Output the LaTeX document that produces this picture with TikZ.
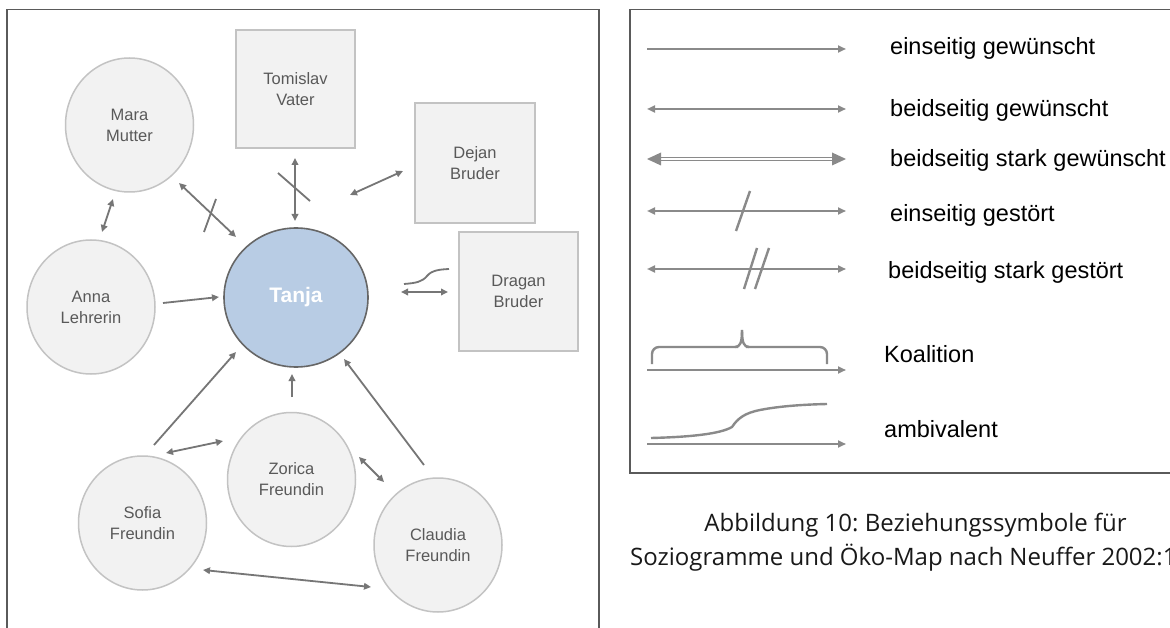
\documentclass[tikz,border=0pt]{standalone}
\usepackage{fontspec}
\setmainfont{Liberation Sans}
\newfontfamily\capfont{Open Sans}
\usetikzlibrary{shapes.geometric,arrows.meta}
\frenchspacing
\definecolor{nodefill}{HTML}{F2F2F2}
\definecolor{nodeline}{HTML}{C3C3C3}
\definecolor{nodetext}{HTML}{595959}
\definecolor{tanjafill}{HTML}{B8CCE4}
\definecolor{tanjaline}{HTML}{666666}
\definecolor{relgray}{HTML}{767676}
\definecolor{leggray}{HTML}{8A8A8A}
\definecolor{framegray}{HTML}{5A5A5A}
\tikzset{
  person/.style={ellipse, draw=nodeline, fill=nodefill, line width=1.5pt, inner sep=0pt,
    minimum width=128pt, minimum height=134pt, align=center, text=nodetext,
    font=\fontsize{16.5}{21}\selectfont},
  family/.style={rectangle, draw=nodeline, fill=nodefill, line width=1.5pt, inner sep=0pt,
    minimum width=119pt, minimum height=118pt, align=center, text=nodetext,
    font=\fontsize{16.5}{21}\selectfont},
  focus/.style={ellipse, draw=tanjaline, fill=tanjafill, line width=1.6pt, inner sep=0pt,
    minimum width=144pt, minimum height=139pt, text=white, font=\fontsize{21}{24}\selectfont\bfseries},
  rel/.style={draw=relgray, line width=1.8pt},
  onehead/.style={rel, -{Triangle[length=7pt,width=6.5pt]}},
  twohead/.style={rel, {Triangle[length=7pt,width=6.5pt]}-{Triangle[length=7pt,width=6.5pt]}},
  crossmark/.style={draw=relgray, line width=1.8pt},
  frameline/.style={draw=framegray, line width=1.8pt},
  legline/.style={draw=leggray, line width=2.4pt},
  legone/.style={legline, -{Triangle[length=8pt,width=7pt]}},
  legtwo/.style={legline, {Triangle[length=8pt,width=7pt]}-{Triangle[length=8pt,width=7pt]}},
  legtext/.style={anchor=base west, inner sep=0pt, font=\fontsize{23.5}{28}\selectfont, text=black},
  captext/.style={inner sep=0pt, font=\capfont\fontsize{24}{34}\selectfont, text=black!90}
}
\begin{document}
\begin{tikzpicture}[x=1pt,y=-1pt]
\useasboundingbox (0,0) rectangle (1170,628);
\clip (0,0) rectangle (1170,628);
\fill[white] (0,0) rectangle (1170,628);
% frames
\draw[frameline] (7,640) -- (7,9.5) -- (599,9.5) -- (599,640);
\draw[frameline] (1190,473) -- (630,473) -- (630,9.5) -- (1190,9.5);

% nodes
\node[person] (mara) at (129.5,125) {Mara\\Mutter};
\node[person] (anna) at (91,307) {Anna\\Lehrerin};
\node[person] (sofia) at (142.5,523) {Sofia\\Freundin};
\node[person] (zorica) at (291.5,479.5) {Zorica\\Freundin};
\node[person] (claudia) at (438,545) {Claudia\\Freundin};
\node[family] (tomislav) at (295.5,89) {Tomislav\\Vater};
\node[family, minimum width=120pt, minimum height=120pt] (dejan) at (475,163) {Dejan\\Bruder};
\node[family, minimum height=119pt] (dragan) at (518.5,291.5) {Dragan\\Bruder};
\node[focus] (tanja) at (296,297.5) {Tanja};

% connector end points
\coordinate (ma1) at (113,199); \coordinate (ma2) at (102,232);
\coordinate (mt1) at (179,183); \coordinate (mt2) at (236,237);
\coordinate (tt1) at (295,158); \coordinate (tt2) at (295,221);
\coordinate (dt1) at (350,195); \coordinate (dt2) at (403,171);
\coordinate (at1) at (163,303); \coordinate (at2) at (219,297);
\coordinate (dr1) at (401,292); \coordinate (dr2) at (448,292);
\coordinate (st1) at (154,445); \coordinate (st2) at (236,352);
\coordinate (zt1) at (292,397); \coordinate (zt2) at (292,374);
\coordinate (ct1) at (424,465); \coordinate (ct2) at (344,359);
\coordinate (sz1) at (166,453); \coordinate (sz2) at (223,441);
\coordinate (zc1) at (359,457); \coordinate (zc2) at (384,482);
\coordinate (sc1) at (203,570); \coordinate (sc2) at (371,587);

\draw[twohead] (ma1) -- (ma2);
\draw[twohead] (mt1) -- (mt2);
\draw[crossmark] (216,199) -- (204,232);
\draw[twohead] (tt1) -- (tt2);
\draw[crossmark] (278,173) -- (310,201);
\draw[twohead] (dt1) -- (dt2);
\draw[onehead] (at1) -- (at2);
\draw[twohead] (dr1) -- (dr2);
\draw[crossmark] (404,284) .. controls (416,283) and (422,282) .. (427,276)
  .. controls (432,270) and (440,269.5) .. (449,269);
\draw[onehead] (st1) -- (st2);
\draw[onehead] (zt1) -- (zt2);
\draw[onehead] (ct1) -- (ct2);
\draw[twohead] (sz1) -- (sz2);
\draw[twohead] (zc1) -- (zc2);
\draw[twohead] (sc1) -- (sc2);

% legend
\draw[legone] (647,49) -- (846,49);
\node[legtext] (l1) at (890,55) {einseitig gewünscht};
\draw[legtwo] (647,109) -- (846,109);
\node[legtext] (l2) at (890,117) {beidseitig gewünscht};
\draw[draw=leggray, line width=1.5pt, double=white, double distance=1.4pt] (657,159) -- (836,159);
\fill[leggray] (647,159) -- (661,152.5) -- (661,165.5) -- cycle;
\fill[leggray] (846,159) -- (832,152.5) -- (832,165.5) -- cycle;
\node[legtext] (l3) at (890,167) {beidseitig stark gewünscht};
\draw[legtwo] (647,211) -- (846,211);
\draw[legline] (750,191) -- (736,231);
\node[legtext] (l4) at (890,222) {einseitig gestört};
\draw[legtwo] (647,269) -- (846,269);
\draw[legline] (757,248) -- (744,289);
\draw[legline] (769,248) -- (755,289);
\node[legtext] (l5) at (888,279) {beidseitig stark gestört};
\draw[legone] (647,370) -- (846,370);
\draw[legline, rounded corners=7pt] (652,364) -- (652,347) -- (738,347);
\draw[legline] (735,347) .. controls (740,347) and (742,343) .. (742,330);
\draw[legline] (749,347) .. controls (744,347) and (742,343) .. (742,330);
\draw[legline, rounded corners=7pt] (746,347) -- (827,347) -- (827,364);
\node[legtext] (l6) at (884,362) {Koalition};
\draw[legone] (647,444) -- (846,444);
\draw[legline] (651,438) .. controls (690,437) and (720,434) .. (732,427)
  .. controls (738,418) and (745,413) .. (760,410) .. controls (780,406) and (805,404.5) .. (827,404);
\node[legtext] (l7) at (884,437) {ambivalent};

% caption
\node[captext, anchor=base] (cap1) at (915.5,531) {Abbildung 10: Beziehungssymbole für};
\node[captext, anchor=base west] (cap2) at (630,565) {Soziogramme und Öko-Map nach Neuffer 2002:1};
\end{tikzpicture}
\end{document}
